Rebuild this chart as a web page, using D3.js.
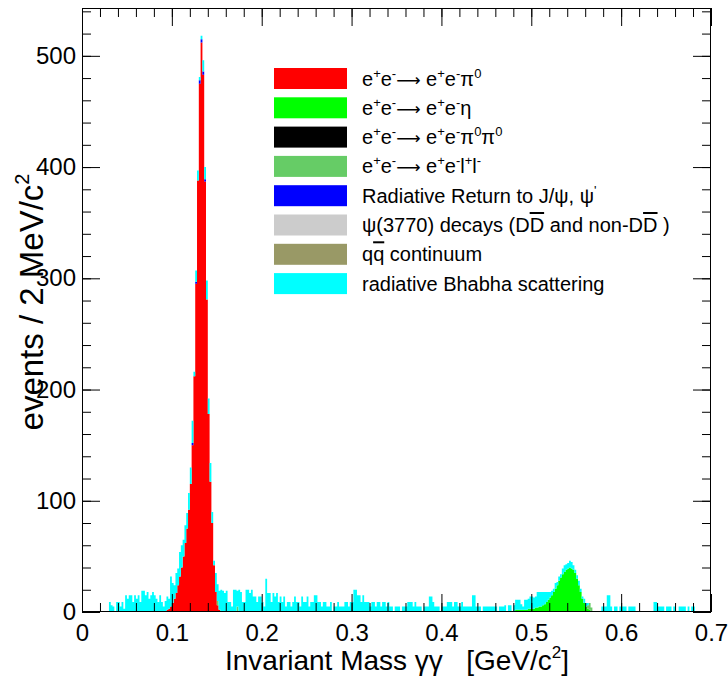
<!DOCTYPE html>
<html>
<head>
<meta charset="utf-8">
<script src="https://cdn.jsdelivr.net/npm/d3@7"></script>
<style>
  body { margin: 0; background: #fff; }
  svg { display: block; font-family: "Liberation Sans", Arial, Helvetica, sans-serif; }
  .pre { white-space: pre; }
</style>
</head>
<body>
<div id="chart"></div>
<script>
// Data: 2 MeV bins from 0 to 0.7 GeV, stacked in legend order
// ===========================================================
var binWidth = 0.002;
var nBins = 350;

var seriesColors = ["#ff0000", "#00ff00", "#000000", "#66cc66", "#0000ff", "#cccccc", "#999966", "#00ffff"];

// e+e- -> e+e- pi0 (first bin low edge, then counts)
var pi0Start = 0.092;
var pi0Counts = [1, 2, 3, 5, 8, 12, 17, 24, 32, 40, 50, 62, 75, 92, 115, 150,
                 212, 295, 388, 475, 512, 483, 387, 281, 178, 117, 80, 42, 18, 6, 2, 1];

// e+e- -> e+e- eta
var etaStart = 0.470;
var etaCounts = [1, 1, 1, 1, 1, 1, 2, 2, 2, 2, 2, 2, 2, 3, 3,
                 3, 3, 4, 4, 5, 5, 6, 7, 9, 11, 13, 15, 18, 21, 24, 28, 31, 34, 36, 38,
                 39, 40, 39, 38, 35, 30, 24, 18, 12, 8, 5, 3, 2, 1, 1];

// e+e- -> e+e- pi0 pi0 (nothing visible)
var pi0pi0Start = 0.0;
var pi0pi0Counts = [];

// e+e- -> e+e- l+l- (a few isolated bins)
var llEdges = [0.150, 0.172, 0.562, 0.564, 0.566];
var llCounts = [4, 5, 3, 6, 3];

// radiative return to J/psi, psi'
var radRetStart = 0.122;
var radRetCounts = [2, 0, 2, 0, 3, 3, 3, 2];

// psi(3770) decays and q-qbar continuum (nothing visible)
var psiStart = 0.0;
var psiCounts = [];
var qqStart = 0.0;
var qqCounts = [];

// radiative Bhabha scattering
var bhabhaStart = 0.030;
var bhabhaCounts = [
  9, 6, 5, 0, 9, 9, 5, 9, 3, 15,
  12, 15, 15, 9, 15, 12, 15, 9, 19, 19,
  15, 18, 12, 15, 18, 15, 12, 9, 15, 9,
  5, 9, 12, 9, 27, 18, 12, 18, 15, 22,
  20, 15, 16, 14, 15, 15, 20, 4, 10, 9,
  3, 3, 10, 11, 17, 14, 17, 10, 4, 17,
  15, 17, 19, 19, 17, 19, 9, 9, 5, 20,
  20, 14, 20, 18, 9, 9, 20, 20, 17, 20,
  14, 14, 9, 14, 14, 9, 5, 30, 17, 17,
  9, 17, 14, 17, 9, 14, 9, 14, 5, 9,
  9, 5, 9, 14, 9, 9, 5, 14, 9, 9,
  14, 5, 9, 9, 15, 15, 9, 9, 5, 9,
  9, 5, 5, 9, 0, 5, 5, 9, 5, 5,
  5, 9, 9, 5, 9, 9, 20, 20, 15, 15,
  9, 15, 9, 9, 9, 5, 9, 9, 5, 9,
  9, 5, 9, 9, 5, 9, 5, 5, 0, 5,
  5, 5, 0, 5, 5, 5, 9, 9, 9, 5,
  9, 5, 5, 5, 0, 5, 5, 5, 14, 14,
  9, 5, 5, 5, 0, 5, 5, 5, 9, 9,
  9, 5, 9, 9, 5, 5, 9, 5, 5, 5,
  5, 5, 15, 15, 5, 5, 5, 0, 5, 5,
  5, 5, 5, 5, 5, 5, 0, 5, 5, 5,
  5, 0, 5, 5, 0, 5, 9, 9, 9, 5,
  3, 9, 9, 9, 11, 11, 10, 10, 14, 13,
  13, 12, 11, 9, 7, 5, 4, 3, 5, 3,
  4, 3, 5, 6, 5, 5, 6, 6, 4, 3,
  3, 4, 3, 2, 4, 3, 2, 0, 0, 0,
  0, 0, 0, 0, 5, 5, 5, 15, 15, 5,
  0, 5, 5, 0, 5, 5, 5, 5, 0, 5,
  5, 5, 5, 0, 0, 0, 0, 0, 0, 0,
  0, 0, 0, 9, 9, 5, 5, 5, 5, 0,
  5, 5, 5, 0, 5, 0, 0, 5, 5, 5,
  5, 0, 5, 0, 5, 5
];

// legend texts, as [text, style] pieces ("sup" = superscript, "over" = overline, "arrow")
var legendLabels = [
  [["e"], ["+", "sup"], ["e"], ["-", "sup"], ["\u27f6", "arrow"], [" e"], ["+", "sup"], ["e"], ["-", "sup"], ["\u03c0"], ["0", "sup"]],
  [["e"], ["+", "sup"], ["e"], ["-", "sup"], ["\u27f6", "arrow"], [" e"], ["+", "sup"], ["e"], ["-", "sup"], ["\u03b7"]],
  [["e"], ["+", "sup"], ["e"], ["-", "sup"], ["\u27f6", "arrow"], [" e"], ["+", "sup"], ["e"], ["-", "sup"], ["\u03c0"], ["0", "sup"], ["\u03c0"], ["0", "sup"]],
  [["e"], ["+", "sup"], ["e"], ["-", "sup"], ["\u27f6", "arrow"], [" e"], ["+", "sup"], ["e"], ["-", "sup"], ["l"], ["+", "sup"], ["l"], ["-", "sup"]],
  [["Radiative Return to J/\u03c8, \u03c8"], ["'", "sup"]],
  [["\u03c8(3770) decays (D"], ["D", "over"], [" and non-D"], ["D", "over"], [" )"]],
  [["q"], ["q", "over"], [" continuum"]],
  [["radiative Bhabha scattering"]]
];

var xTickValues = [0, 0.1, 0.2, 0.3, 0.4, 0.5, 0.6, 0.7];
var xTickLabels = ["0", "0.1", "0.2", "0.3", "0.4", "0.5", "0.6", "0.7"];
var yTickValues = [0, 100, 200, 300, 400, 500];
var yTickLabels = ["0", "100", "200", "300", "400", "500"];
var xTitle = "Invariant Mass \u03b3\u03b3   [GeV/c";
var yTitle = "events / 2 MeV/c";

// Step 1: chart setup
// ====================
var svgWidth = 728;
var svgHeight = 679;
var frame = { left: 82, right: 711, top: 8, bottom: 612 };

var svg = d3.select("#chart")
            .append("svg")
            .attr("width", svgWidth)
            .attr("height", svgHeight);

svg.append("rect")
   .attr("width", svgWidth)
   .attr("height", svgHeight)
   .attr("fill", "#fff");

var xScale = d3.scaleLinear().domain([0, 0.7]).range([frame.left, frame.right]);
var yScale = d3.scaleLinear().domain([0, 543]).range([frame.bottom, frame.top]);

// Step 2: build the stacked table
// ================================
function toBins(start, counts) {
  var out = new Array(nBins + 1).fill(0);
  var first = Math.round(start / binWidth);
  counts.forEach(function(c, i) { out[first + i] = c; });
  return out;
}
function sparseBins(edges, counts) {
  var out = new Array(nBins + 1).fill(0);
  edges.forEach(function(e, i) { out[Math.round(e / binWidth)] = counts[i]; });
  return out;
}

var seriesBins = [
  toBins(pi0Start, pi0Counts),
  toBins(etaStart, etaCounts),
  toBins(pi0pi0Start, pi0pi0Counts),
  sparseBins(llEdges, llCounts),
  toBins(radRetStart, radRetCounts),
  toBins(psiStart, psiCounts),
  toBins(qqStart, qqCounts),
  toBins(bhabhaStart, bhabhaCounts)
];

var rows = d3.range(nBins + 1).map(function(i) {
  var row = { x: i * binWidth };
  seriesBins.forEach(function(b, k) { row["s" + k] = b[i]; });
  return row;
});

var keys = seriesBins.map(function(b, k) { return "s" + k; });
var layers = d3.stack().keys(keys)(rows);

var area = d3.area()
             .x(function(d) { return xScale(d.data.x); })
             .y0(function(d) { return yScale(d[0]); })
             .y1(function(d) { return yScale(d[1]); })
             .curve(d3.curveStepAfter);

svg.append("clipPath").attr("id", "frameClip")
   .append("rect")
   .attr("x", frame.left).attr("y", frame.top)
   .attr("width", frame.right - frame.left)
   .attr("height", frame.bottom - frame.top);

svg.append("g")
   .attr("clip-path", "url(#frameClip)")
   .selectAll("path")
   .data(layers)
   .enter()
   .append("path")
   .attr("d", area)
   .attr("fill", function(d, i) { return seriesColors[i]; })
   .attr("stroke", "none");

// Step 3: axes (ticks on all four sides, pointing inward)
// =======================================================
var xMinor = d3.range(0, 0.7001, 0.02);
var yMinor = d3.range(0, 541, 20);

function styleAxis(g) {
  g.select(".domain").remove();
  g.selectAll(".tick line").attr("stroke", "#000").attr("stroke-width", 1);
  g.selectAll("text").attr("fill", "#000").attr("font-size", 24)
   .attr("font-family", "Liberation Sans, Arial, sans-serif");
}

svg.append("g").attr("transform", "translate(0," + frame.bottom + ")")
   .call(d3.axisBottom(xScale).tickValues(xMinor).tickSize(-9).tickFormat(""))
   .call(styleAxis);
svg.append("g").attr("transform", "translate(0," + frame.bottom + ")")
   .call(d3.axisBottom(xScale).tickValues(xTickValues).tickSize(-18).tickPadding(12)
           .tickFormat(function(d, i) { return xTickLabels[i]; }))
   .call(styleAxis);
svg.append("g").attr("transform", "translate(0," + frame.top + ")")
   .call(d3.axisTop(xScale).tickValues(xMinor).tickSize(-9).tickFormat(""))
   .call(styleAxis);
svg.append("g").attr("transform", "translate(0," + frame.top + ")")
   .call(d3.axisTop(xScale).tickValues(xTickValues).tickSize(-18).tickFormat(""))
   .call(styleAxis);

svg.append("g").attr("transform", "translate(" + frame.left + ",0)")
   .call(d3.axisLeft(yScale).tickValues(yMinor).tickSize(-9).tickFormat(""))
   .call(styleAxis);
svg.append("g").attr("transform", "translate(" + frame.left + ",0)")
   .call(d3.axisLeft(yScale).tickValues(yTickValues).tickSize(-18).tickPadding(6)
           .tickFormat(function(d, i) { return yTickLabels[i]; }))
   .call(styleAxis);
svg.append("g").attr("transform", "translate(" + frame.right + ",0)")
   .call(d3.axisRight(yScale).tickValues(yMinor).tickSize(-9).tickFormat(""))
   .call(styleAxis);
svg.append("g").attr("transform", "translate(" + frame.right + ",0)")
   .call(d3.axisRight(yScale).tickValues(yTickValues).tickSize(-18).tickFormat(""))
   .call(styleAxis);

// frame
svg.append("rect")
   .attr("x", frame.left + 0.5).attr("y", frame.top + 0.5)
   .attr("width", frame.right - frame.left - 1)
   .attr("height", frame.bottom - frame.top - 1)
   .attr("fill", "none")
   .attr("stroke", "#000");

// Step 4: axis titles
// ====================
var xt = svg.append("text")
            .attr("class", "pre")
            .attr("x", 397)
            .attr("y", 670)
            .attr("text-anchor", "middle")
            .attr("font-size", 28);
xt.append("tspan").text(xTitle);
xt.append("tspan").attr("font-size", 17).attr("dy", -12).text("2");
xt.append("tspan").attr("dy", 12).text("]");

var yt = svg.append("text")
            .attr("class", "pre")
            .attr("transform", "translate(43,302) rotate(-90)")
            .attr("text-anchor", "middle")
            .attr("font-size", 33);
yt.append("tspan").text(yTitle);
yt.append("tspan").attr("font-size", 20).attr("dy", -14).text("2");

// Step 5: legend
// ===============
var legend = svg.append("g");
legendLabels.forEach(function(label, i) {
  var top = 68 + i * 29.3;
  legend.append("rect")
        .attr("x", 274).attr("y", top)
        .attr("width", 73).attr("height", 21)
        .attr("fill", seriesColors[i]);
  var t = legend.append("text")
                .attr("class", "pre")
                .attr("x", 362)
                .attr("y", top + 17.5)
                .attr("font-size", 20);
  var raised = false;
  label.forEach(function(piece) {
    var sp = t.append("tspan").text(piece[0]);
    var isSup = piece[1] === "sup";
    if (isSup && !raised) sp.attr("dy", -8);
    if (!isSup && raised) sp.attr("dy", 8);
    if (isSup) sp.attr("font-size", 13);
    if (piece[1] === "arrow") sp.attr("font-family", "DejaVu Sans").attr("font-size", 17);
    if (piece[1] === "over") sp.style("text-decoration", "overline");
    raised = isSup;
  });
});
</script>
</body>
</html>
